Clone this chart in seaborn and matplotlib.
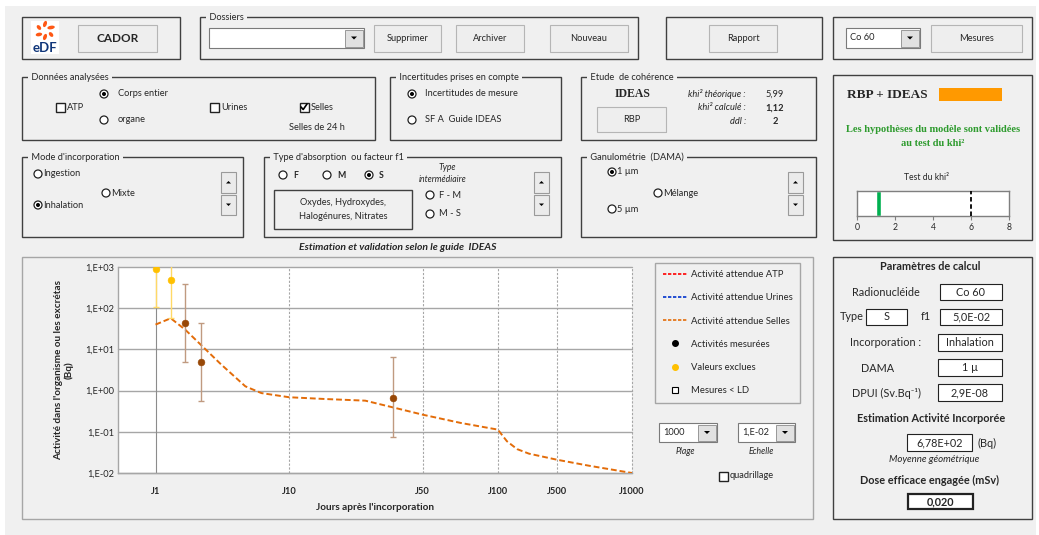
import numpy as np
import pandas as pd
import matplotlib
matplotlib.use('Agg')
import matplotlib.pyplot as plt
import seaborn as sns
from matplotlib.patches import Rectangle, Circle, Ellipse, Polygon
from matplotlib.lines import Line2D
from matplotlib.ticker import NullLocator

# --- données du graphique ---
jours_modele = [1, 1.3, 1.67, 2.18, 3.1, 4.7, 6.2, 10, 15.4, 25, 35, 50, 71, 100, 128, 169, 233, 500, 673, 1000]
selles_modele = [40, 57, 30, 13, 4.3, 1.27, 0.87, 0.69, 0.625, 0.57, 0.39, 0.26, 0.164, 0.113,
                 0.059, 0.038, 0.0295, 0.021, 0.015, 0.01]

jours_mesures = [1.67, 2.18, 35]
act_mesures = [43, 4.9, 0.66]
act_mes_bas = [4.9, 0.55, 0.075]
act_mes_haut = [386, 44, 6.4]

jours_exclus = [1, 1.3]
act_exclus = [900, 475]
act_excl_bas = [105, 57]
act_excl_haut = [8000, 4000]

ticks_jours = [1, 10, 50, 100, 500, 1000]
ticks_jours_labels = ['J1', 'J10', 'J50', 'J100', 'J500', 'J1000']
ticks_act = [0.01, 0.1, 1, 10, 100, 1000]
ticks_act_labels = ['1,E-02', '1,E-01', '1,E+00', '1,E+01', '1,E+02', '1,E+03']

khi2_calcule = 1.12
khi2_theorique = 5.99
khi2_ticks = [0, 2, 4, 6, 8]

# position relative des étiquettes sur l'axe des jours (axe non proportionnel)
pos_ticks = [0.073, 0.333, 0.593, 0.739, 0.854, 1.0]

FOND = '#F0F0F0'
BORD = '#404040'
ORANGE = '#E36C09'
BRUN = '#984807'
JAUNE = '#FFC000'
W, H = 1039, 535

sns.set_style('white')
plt.rcParams['font.family'] = ['Lato', 'DejaVu Sans']
FS = 7

fig = plt.figure(figsize=(W / 100, H / 100), dpi=100, facecolor='white')
bg = fig.add_axes([0, 0, 1, 1])
bg.set_xlim(0, W)
bg.set_ylim(H, 0)
bg.axis('off')
bg.add_patch(Rectangle((5, 6), 1031, 529, fc=FOND, ec='none'))


def px_axes(x0, y0, x1, y1):
    return fig.add_axes([x0 / W, 1 - y1 / H, (x1 - x0) / W, (y1 - y0) / H])


def cadre(x0, y0, x1, y1, titre=None, couleur=BORD):
    bg.add_patch(Rectangle((x0, y0), x1 - x0, y1 - y0, fill=False, ec=couleur, lw=1))
    if titre:
        bg.text(x0 + 7, y0, ' ' + titre + ' ', ha='left', va='center', fontsize=FS - 0.3,
                bbox=dict(fc=FOND, ec='none', pad=0.5))


def bouton(x0, y0, x1, y1, texte, **kw):
    bg.add_patch(Rectangle((x0 + 1, y0 + 1), x1 - x0, y1 - y0, fc='#9A9A9A', ec='none'))
    bg.add_patch(Rectangle((x0, y0), x1 - x0, y1 - y0, fc='#EEEEEE', ec='#B5B5B5', lw=0.8))
    kw.setdefault('fontsize', FS - 0.3)
    bg.text((x0 + x1) / 2, (y0 + y1) / 2, texte, ha='center', va='center', **kw)


def radio(x, y, texte, coche=False, dx=9, **kw):
    bg.add_patch(Circle((x, y), 4, fc='white', ec='#222222', lw=0.9))
    if coche:
        bg.add_patch(Circle((x, y), 2, fc='black', ec='none'))
    kw.setdefault('fontsize', FS - 0.3)
    bg.text(x + dx, y, texte, va='center', **kw)


def case(x, y, texte, coche=False):
    bg.add_patch(Rectangle((x - 4.5, y - 4.5), 9, 9, fc='white', ec='#222222', lw=1))
    if coche:
        bg.plot([x - 3, x - 0.8, x + 3], [y, y + 2.5, y - 3], color='black', lw=1.2)
    bg.text(x + 7, y, texte, va='center', fontsize=FS - 0.3)


def fleche(cx, cy, bas=True, t=3):
    if bas:
        pts = [(cx - t, cy - t / 2), (cx + t, cy - t / 2), (cx, cy + t / 2)]
    else:
        pts = [(cx - t, cy + t / 2), (cx + t, cy + t / 2), (cx, cy - t / 2)]
    bg.add_patch(Polygon(pts, closed=True, fc='black', ec='none'))


def combo(x0, y0, x1, y1, texte):
    bg.add_patch(Rectangle((x0, y0), x1 - x0, y1 - y0, fc='white', ec='#7A7A7A', lw=0.8))
    bg.add_patch(Rectangle((x1 - 19, y0 + 1.5), 17.5, y1 - y0 - 3, fc='#E1E1E1', ec='#8A8A8A', lw=0.6))
    fleche(x1 - 10, (y0 + y1) / 2)
    bg.text(x0 + 4, (y0 + y1) / 2, texte, va='center', fontsize=FS - 0.3)


def spin(x0, x1, y0, y1):
    ym = (y0 + y1) / 2
    for a, b, bas in [(y0, ym - 1, False), (ym + 1, y1, True)]:
        bg.add_patch(Rectangle((x0, a), x1 - x0, b - a, fc='#EBEBEB', ec='#9A9A9A', lw=0.8))
        fleche((x0 + x1) / 2, (a + b) / 2, bas=bas, t=2.5)


def champ(x0, y0, x1, y1, texte, lw=0.8, **kw):
    bg.add_patch(Rectangle((x0, y0), x1 - x0, y1 - y0, fc='white', ec='#222222', lw=lw))
    kw.setdefault('fontsize', 7.8)
    bg.text((x0 + x1) / 2, (y0 + y1) / 2, texte, ha='center', va='center', **kw)


# --- bandeau du haut ---
cadre(22, 17, 180, 59)
bg.add_patch(Rectangle((31, 21), 28, 33, fc='white', ec='none'))
for ang, r, lg in [(90, 7, 6.5), (30, 7, 7.5), (-30, 7, 5.5), (-90, 6, 6.5), (-150, 7, 6.5), (150, 7, 5.5)]:
    a = np.deg2rad(ang)
    bg.add_patch(Ellipse((45 + r * np.cos(a), 31 - r * np.sin(a)), lg, 3.6, angle=-ang + 20,
                         fc='#FE5815', ec='none'))
bg.text(45, 48, 'eDF', ha='center', va='center', fontsize=9.5, weight='bold', color='#10367A')
bouton(78, 25, 157, 52, 'CADOR', weight='bold', fontsize=8.5)

cadre(200, 17, 638, 59, 'Dossiers')
combo(209, 28, 364, 48, '')
bouton(374, 25, 441, 52, 'Supprimer')
bouton(456, 25, 524, 52, 'Archiver')
bouton(550, 25, 628, 52, 'Nouveau')

cadre(666, 17, 822, 59)
bouton(709, 25, 777, 52, 'Rapport')

cadre(833, 17, 1032, 59)
combo(846, 28, 920, 48, 'Co 60')
bouton(931, 25, 1022, 52, 'Mesures')

# --- deuxième rangée ---
cadre(22, 77, 375, 140, 'Données analysées')
case(60, 107, 'ATP')
radio(104, 94, 'Corps entier', coche=True, dx=14)
radio(104, 120, 'organe', dx=14)
case(214, 107, 'Urines')
case(304, 107, 'Selles', coche=True)
bg.text(317, 128, 'Selles de 24 h', ha='center', va='center', fontsize=FS - 0.3)

cadre(390, 77, 561, 140, 'Incertitudes prises en compte')
radio(412, 94, 'Incertitudes de mesure', coche=True, dx=13)
radio(412, 120, 'SF A  Guide IDEAS', dx=13)

cadre(581, 77, 816, 140, 'Etude  de cohérence')
bg.text(633, 94, 'IDEAS', ha='center', va='center', fontsize=8.5, weight='bold', family='Liberation Serif')
bouton(597, 107, 666, 132, 'RBP')
for yy, lab, val, wt in [(94, 'khi² théorique :', '5,99', 'normal'),
                         (108, 'khi² calculé :', '1,12', 'bold'),
                         (121, 'ddl :', '2', 'bold')]:
    bg.text(746, yy, lab, ha='right', va='center', fontsize=FS - 0.3, style='italic')
    bg.text(775, yy, val, ha='center', va='center', fontsize=FS - 0.3, weight=wt)

cadre(833, 75, 1032, 240)
bg.text(847, 95, 'RBP + IDEAS', ha='left', va='center', fontsize=9.5, weight='bold', family='Liberation Serif')
bg.add_patch(Rectangle((939, 88), 63, 13, fc='#FF9900', ec='none'))
bg.text(933, 129, 'Les hypothèses du modèle sont validées', ha='center', va='center', fontsize=7.5,
        weight='bold', family='Liberation Serif', color='#2E9B2E')
bg.text(933, 143, 'au test du khi²', ha='center', va='center', fontsize=7.5,
        weight='bold', family='Liberation Serif', color='#2E9B2E')
bg.text(927, 177, 'Test du khi²', ha='center', va='center', fontsize=FS - 0.8)

# --- troisième rangée ---
cadre(22, 157, 243, 237, "Mode d'incorporation")
radio(38, 174, 'Ingestion', dx=5)
radio(106, 193, 'Mixte', dx=5)
radio(38, 205, 'Inhalation', coche=True, dx=5)
spin(221, 236, 172, 215)

cadre(264, 157, 561, 237, "Type d'absorption  ou facteur f1")
radio(283, 175, 'F', dx=10, weight='bold', fontsize=FS - 0.8)
radio(327, 175, 'M', dx=10, weight='bold', fontsize=FS - 0.8)
radio(369, 175, 'S', coche=True, dx=10, weight='bold', fontsize=FS - 0.8)
bg.add_patch(Rectangle((274, 190), 138, 39, fill=False, ec=BORD, lw=1))
bg.text(343, 209.5, 'Oxydes, Hydroxydes,\nHalogénures, Nitrates', ha='center', va='center',
        fontsize=FS - 0.3, linespacing=1.7)
bg.text(447, 167, 'Type', ha='center', va='center', fontsize=FS - 0.8, style='italic')
bg.text(443, 180, 'intermédiaire', ha='center', va='center', fontsize=FS - 0.8, style='italic')
radio(430, 195, 'F - M', dx=9)
radio(430, 214, 'M - S', dx=9)
spin(534, 549, 172, 215)

cadre(581, 157, 816, 237, 'Ganulométrie  (DAMA)')
radio(612, 172, '1 µm', coche=True, dx=5)
radio(658, 193, 'Mélange', dx=5)
radio(612, 209, '5 µm', dx=5)
spin(788, 803, 172, 215)

bg.text(398, 248, 'Estimation et validation selon le guide  IDEAS', ha='center', va='center',
        fontsize=7.5, weight='bold', style='italic')

# --- cadre du graphique ---
cadre(22, 257, 813, 519, couleur='#A6A6A6')
combo(659, 423, 717, 442, '1000')
bg.text(685, 452, 'Plage', ha='center', va='center', fontsize=FS - 0.8, style='italic')
combo(738, 423, 795, 442, '1,E-02')
bg.text(761, 452, 'Echelle', ha='center', va='center', fontsize=FS - 0.8, style='italic')
case(723, 476, 'quadrillage')

# --- paramètres de calcul ---
cadre(833, 257, 1032, 519)
bg.text(930, 266, 'Paramètres de calcul', ha='center', va='center', fontsize=7.8, weight='bold')
bg.text(886, 292, 'Radionucléide', ha='center', va='center', fontsize=7.8)
champ(940, 284, 1002, 300, 'Co 60')
bg.text(864, 317, 'Type', ha='right', va='center', fontsize=7.8)
champ(866, 309, 907, 325, 'S')
bg.text(926, 317, 'f1', ha='center', va='center', fontsize=7.8)
champ(940, 309, 1002, 325, '5,0E-02')
bg.text(886, 343, 'Incorporation :', ha='center', va='center', fontsize=7.8)
champ(938, 334, 1002, 351, 'Inhalation')
bg.text(878, 368, 'DAMA', ha='center', va='center', fontsize=7.8)
champ(938, 359, 1002, 376, '1 µ')
bg.text(887, 393, 'DPUI (Sv.Bq⁻¹)', ha='center', va='center', fontsize=7.8)
champ(938, 384, 1002, 401, '2,9E-08')
bg.text(931, 418, 'Estimation Activité Incorporée', ha='center', va='center', fontsize=7.8, weight='bold')
champ(907, 434, 972, 451, '6,78E+02')
bg.text(977, 443, '(Bq)', ha='left', va='center', fontsize=7.8)
bg.text(934, 459, 'Moyenne géométrique', ha='center', va='center', fontsize=FS, style='italic')
bg.text(930, 480, 'Dose efficace engagée (mSv)', ha='center', va='center', fontsize=7.8, weight='bold')
champ(908, 494, 973, 509, '0,020', lw=1.6, weight='bold')

# --- graphique principal ---
log_knots = np.log10(np.array(ticks_jours, dtype=float))
log_knots = np.concatenate([[log_knots[0] - 1], log_knots])
pos_knots = np.concatenate([[pos_ticks[0] - (pos_ticks[1] - pos_ticks[0])], pos_ticks])


def fwd(x):
    x = np.asarray(x, dtype=float)
    return np.interp(np.log10(np.clip(x, 1e-9, None)), log_knots, pos_knots, left=-1, right=2)


def inv(p):
    p = np.asarray(p, dtype=float)
    return 10 ** np.interp(p, pos_knots, log_knots)


ax = px_axes(118, 267, 632, 473)
df_modele = pd.DataFrame({'jours': jours_modele, 'activite': selles_modele})
sns.lineplot(data=df_modele, x='jours', y='activite', ax=ax, color=ORANGE, lw=1.4,
             linestyle=(0, (3, 1.5)), estimator=None, sort=True, zorder=3)

ax.errorbar(jours_exclus, act_exclus,
            yerr=[np.subtract(act_exclus, act_excl_bas), np.subtract(act_excl_haut, act_exclus)],
            fmt='none', ecolor='#FFD966', capsize=2.5, lw=1, zorder=3)
ax.errorbar(jours_mesures, act_mesures,
            yerr=[np.subtract(act_mesures, act_mes_bas), np.subtract(act_mes_haut, act_mesures)],
            fmt='none', ecolor='#C09A80', capsize=2.5, lw=1, zorder=3)
sns.scatterplot(x=jours_exclus, y=act_exclus, ax=ax, color=JAUNE, edgecolor=JAUNE, s=24, zorder=4)
sns.scatterplot(x=jours_mesures, y=act_mesures, ax=ax, color=BRUN, edgecolor=BRUN, s=24, zorder=4)

ax.set_xscale('function', functions=(fwd, inv))
ax.set_yscale('log')
ax.set_xlim(float(inv(0.0)), 1000)
ax.set_ylim(0.01, 1000)
ax.set_facecolor('white')

for v in ticks_act:
    ax.axhline(v, color='#A6A6A6', lw=1, zorder=1, clip_on=False)
for j in ticks_jours:
    if j == 1:
        ax.axvline(j, color='#8C8C8C', lw=0.8, zorder=1)
    else:
        ax.axvline(j, color='#A6A6A6', lw=0.8, ls=(0, (2, 1.5)), zorder=1, clip_on=False)

ax.set_xticks(ticks_jours, ticks_jours_labels)
ax.set_yticks(ticks_act, ticks_act_labels)
ax.xaxis.set_minor_locator(NullLocator())
ax.yaxis.set_minor_locator(NullLocator())
ax.tick_params(axis='x', length=0, pad=10, labelsize=FS - 0.3)
ax.tick_params(axis='y', length=0, pad=3, labelsize=FS - 0.3)
for t in ax.get_xticklabels():
    t.set_fontweight('bold')
for s in ['top', 'right']:
    ax.spines[s].set_visible(False)
for s in ['left', 'bottom']:
    ax.spines[s].set_color('#A6A6A6')
    ax.spines[s].set_linewidth(1)
ax.set_xlabel("Jours après l'incorporation", fontsize=FS + 0.2, weight='bold', labelpad=5)
ax.set_ylabel("Activité dans l'organisme ou les excrétas\n(Bq)", fontsize=FS + 0.2, weight='bold',
              labelpad=8, linespacing=1.1)

poignees = [
    Line2D([], [], color='#FF0000', lw=1.2, ls=(0, (2, 1))),
    Line2D([], [], color='#0033CC', lw=1.2, ls=(0, (2, 1))),
    Line2D([], [], color=ORANGE, lw=1.2, ls=(0, (2, 1))),
    Line2D([], [], ls='none', marker='o', color='black', ms=4),
    Line2D([], [], ls='none', marker='o', color=JAUNE, ms=4),
    Line2D([], [], ls='none', marker='s', mfc='white', mec='black', ms=5, mew=0.8),
]
etiquettes = ['Activité attendue ATP', 'Activité attendue Urines', 'Activité attendue Selles',
              'Activités mesurées', 'Valeurs exclues', 'Mesures < LD']
leg = ax.legend(poignees, etiquettes, loc='upper left', bbox_to_anchor=(655 / W, 1 - 268 / H, 145 / W, 0.01),
                bbox_transform=fig.transFigure, mode='expand', frameon=True, fancybox=False,
                edgecolor='#A6A6A6', facecolor=FOND, framealpha=1, fontsize=FS - 0.2, labelspacing=1.5,
                handlelength=2.6, handletextpad=0.4, borderpad=0.8, borderaxespad=0)
leg.get_frame().set_linewidth(1)

# --- test du khi² ---
axk = px_axes(857, 191, 1009, 216)
axk.bar([khi2_calcule], [1], width=0.25, color='#00B050', align='center', zorder=2)
axk.axvline(khi2_theorique, color='black', lw=1.3, ls=(0, (2.5, 1.5)), zorder=3)
axk.set_xlim(0, 8)
axk.set_ylim(0, 1)
axk.set_facecolor('white')
axk.set_xticks(khi2_ticks)
axk.set_yticks([])
axk.tick_params(axis='x', length=3, width=0.8, color='#7F7F7F', labelsize=FS - 0.8, pad=2, direction='out',
                bottom=True)
for s in axk.spines.values():
    s.set_color('#7F7F7F')
    s.set_linewidth(1)

fig.savefig('out.png', dpi=100, facecolor='white')
